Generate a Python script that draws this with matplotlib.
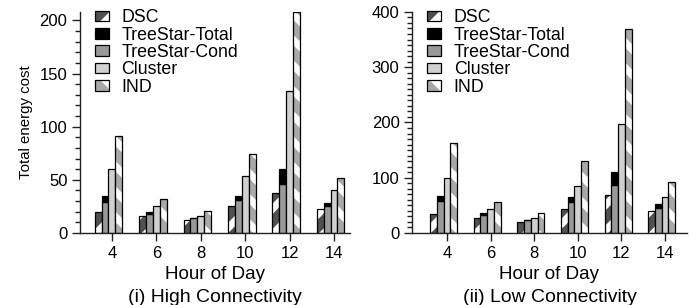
import numpy as np
import matplotlib
matplotlib.use('Agg')
import matplotlib.pyplot as plt
from matplotlib.patches import Patch
from matplotlib.legend_handler import HandlerTuple
from matplotlib.ticker import MultipleLocator

# Se dibuja a 76 dpi para que el rayado quede con el paso del original;
# todos los tamanos en puntos se escalan con S
DPI = 76
S = 100 / DPI

plt.rcParams['font.family'] = ['Liberation Sans', 'DejaVu Sans']
plt.rcParams['hatch.linewidth'] = 7

# Datos
horas = ['4', '6', '8', '10', '12', '14']

dsc_alta = [20, 16, 12, 25, 38, 23]
total_alta = [35, 20, 14, 35, 60, 28]
cond_alta = [29, 18, 14, 31, 46, 25]
cluster_alta = [60, 25, 16, 54, 134, 40]
ind_alta = [91, 32, 21, 74, 208, 52]

dsc_baja = [35, 27, 20, 44, 68, 40]
total_baja = [67, 36, 23, 65, 111, 53]
cond_baja = [58, 33, 23, 56, 86, 46]
cluster_baja = [100, 43, 28, 85, 198, 66]
ind_baja = [163, 56, 36, 130, 369, 92]

etiquetas = ['DSC', 'TreeStar-Total', 'TreeStar-Cond', 'Cluster', 'IND']

c_dsc = '#505050'
c_cond = '#999999'
c_cluster = '#d0d0d0'
c_ind = '#a8a8a8'

w = 0.155
lw = 0.9 * S


def barras(ax, dsc, total, cond, cluster, ind):
    x = np.arange(len(horas))
    # DSC rayado
    ax.bar(x - 2 * w, dsc, w, color=c_dsc, edgecolor='white', hatch='/', linewidth=0)
    ax.bar(x - 2 * w, dsc, w, fill=False, edgecolor='black', linewidth=lw)
    # TreeStar apilado
    ax.bar(x - w, cond, w, color=c_cond, edgecolor='black', linewidth=lw)
    extra = np.array(total) - np.array(cond)
    ax.bar(x - w, extra, w, bottom=cond, color='black', edgecolor='black', linewidth=lw)
    ax.bar(x, cluster, w, color=c_cluster, edgecolor='black', linewidth=lw)
    # IND rayado
    ax.bar(x + w, ind, w, color=c_ind, edgecolor='white', hatch='\\', linewidth=0)
    ax.bar(x + w, ind, w, fill=False, edgecolor='black', linewidth=lw)

    ax.set_xticks(x)
    ax.set_xticklabels(horas)
    ax.spines['top'].set_visible(False)
    ax.spines['right'].set_visible(False)
    for s in ['left', 'bottom']:
        ax.spines[s].set_linewidth(1.0 * S)
        ax.spines[s].set_color('#222222')
    ax.tick_params(axis='both', which='major', direction='out', length=6 * S, width=1 * S,
                   labelsize=12 * S, color='#222222', pad=3 * S)
    ax.tick_params(axis='y', which='minor', direction='out', length=3.5 * S, width=1 * S,
                   color='#222222')
    ax.yaxis.set_minor_locator(MultipleLocator(10))
    ax.set_xlabel('Hour of Day', fontsize=13.5 * S, labelpad=4 * S)

    handles = [
        (Patch(facecolor=c_dsc, edgecolor='white', hatch='/', linewidth=0),
         Patch(fill=False, edgecolor='black', linewidth=lw)),
        Patch(facecolor='black', edgecolor='black', linewidth=lw),
        Patch(facecolor=c_cond, edgecolor='black', linewidth=lw),
        Patch(facecolor=c_cluster, edgecolor='black', linewidth=lw),
        (Patch(facecolor=c_ind, edgecolor='white', hatch='\\', linewidth=0),
         Patch(fill=False, edgecolor='black', linewidth=lw)),
    ]
    ax.legend(handles, etiquetas, handler_map={tuple: HandlerTuple(ndivide=1, pad=0)},
              loc='upper left', bbox_to_anchor=(0.055, 1.012), frameon=False,
              fontsize=12.8 * S, handlelength=0.8, handleheight=0.55, handletextpad=0.7,
              labelspacing=0.02, borderaxespad=0, borderpad=0)


fig = plt.figure(figsize=(689 / DPI, 305 / DPI), dpi=DPI)
ax1 = fig.add_axes([0.116, 0.236, 0.392, 0.725])
ax2 = fig.add_axes([0.598, 0.236, 0.399, 0.725])

barras(ax1, dsc_alta, total_alta, cond_alta, cluster_alta, ind_alta)
barras(ax2, dsc_baja, total_baja, cond_baja, cluster_baja, ind_baja)

ax1.set_xlim(-0.72, 5.36)
ax1.set_ylim(0, 208)
ax1.yaxis.set_major_locator(MultipleLocator(50))
ax1.set_ylabel('Total energy cost', fontsize=10.8 * S, labelpad=5 * S)

ax2.set_xlim(-0.80, 5.50)
ax2.set_ylim(0, 400)
ax2.yaxis.set_major_locator(MultipleLocator(100))

ax1.text(0.5, -0.29, '(i) High Connectivity', transform=ax1.transAxes,
         ha='center', va='center', fontsize=14 * S)
ax2.text(0.5, -0.29, '(ii) Low Connectivity', transform=ax2.transAxes,
         ha='center', va='center', fontsize=14 * S)

fig.savefig('out.png', dpi=DPI)
